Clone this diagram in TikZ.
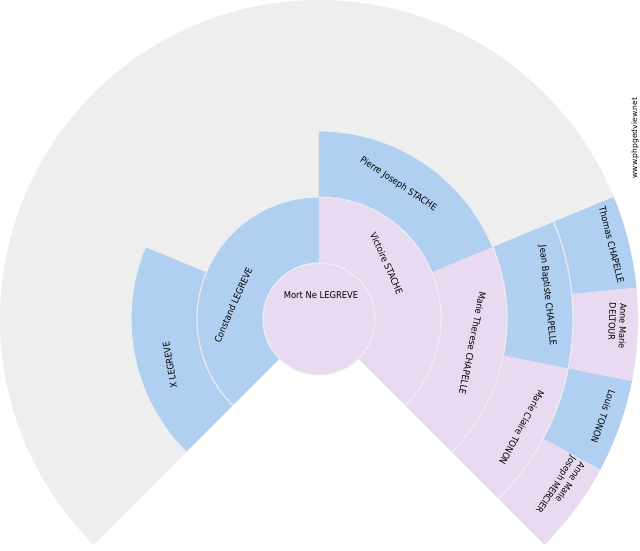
\documentclass[tikz,border=0pt]{standalone}
\usepackage{fontspec}
\setmainfont{DejaVu Sans Condensed}
\newfontfamily\wmfont{DejaVu Sans}
\definecolor{maleblue}{RGB}{177,208,241}
\definecolor{femlav}{RGB}{232,219,241}
\definecolor{fangrey}{RGB}{238,238,238}
\newcommand\fanseg[5]{% color, a1, a2, r1, r2
  \fill[#1] (#2:#4) arc[start angle=#2, end angle=#3, radius=#4] -- (#3:#5) arc[start angle=#3, end angle=#2, radius=#5] -- cycle;}
\tikzset{
  pname/.style={font=\fontsize{9.3}{10}\selectfont, inner sep=0pt, text=black},
  ptwoline/.style={pname, align=left, font=\fontsize{9}{10.6}\selectfont},
  ringsep/.style={draw=fangrey, line width=1.1pt},
}
\begin{document}
\begin{tikzpicture}[x=1pt,y=1pt]
\useasboundingbox (-319,-231) rectangle (321,319);
% grey background fan
\fill[fangrey] (0,0) -- (225:319) arc[start angle=225, end angle=-45, radius=319] -- cycle;
% generation 1
\fanseg{maleblue}{225}{90}{56}{122}
\fanseg{femlav}{90}{-45}{56}{122}
% generation 2
\fanseg{maleblue}{225}{157.5}{122}{188}
\fanseg{maleblue}{90}{22.5}{122}{188}
\fanseg{femlav}{22.5}{-45}{122}{188}
% generation 3
\fanseg{maleblue}{22.5}{-11.25}{188}{254}
\fanseg{femlav}{-11.25}{-45}{188}{254}
% generation 4
\fanseg{maleblue}{22.5}{5.625}{254}{319}
\fanseg{femlav}{5.625}{-11.25}{254}{319}
\fanseg{maleblue}{-11.25}{-28.125}{254}{319}
\fanseg{femlav}{-28.125}{-45}{254}{319}
% ring separators
\draw[ringsep] (225:122) arc[start angle=225, end angle=-45, radius=122];
\draw[ringsep] (225:188) arc[start angle=225, end angle=-45, radius=188];
\draw[ringsep] (225:254) arc[start angle=225, end angle=-45, radius=254];
% centre
\fill[femlav] (0,0) circle[radius=56];
\draw[ringsep] (0,0) circle[radius=56];
% names
\node[pname] (p0) at (2,24) {Mort Ne LEGREVE};
\node[pname, rotate=66] (p1) at (-85.7,14) {Constand LEGREVE};
\node[pname, rotate=-66] (p2) at (67.7,55.7) {Victoire STACHE};
\node[pname, rotate=100] (p3) at (-149,-46) {X LEGREVE};
\node[pname, rotate=-33.6] (p5) at (79.3,134.8) {Pierre Joseph STACHE};
\node[pname, rotate=-101.3] (p6) at (153.5,-24.3) {Marie Therese CHAPELLE};
\node[pname, rotate=-84] (p7) at (228.5,23.2) {Jean Baptiste CHAPELLE};
\node[pname, rotate=-118.5] (p8) at (202.7,-108.5) {Marie Claire TONON};
\node[pname, rotate=-76] (p9) at (292.7,74) {Thomas CHAPELLE};
\node[ptwoline, rotate=-92] (p10) at (298.5,-7) {Anne Marie\\DELTOUR};
\node[pname, rotate=-109.5] (p11) at (284.3,-97.7) {Louis TONON};
\node[ptwoline, rotate=-123] (p12) at (241,-168.5) {Anne Marie\\Joseph MERCIER};
% watermark
\node[font=\wmfont\fontsize{7.6}{8}\selectfont, rotate=90, inner sep=0pt] (wm) at (316,181) {www.phpgedview.net};
\end{tikzpicture}
\end{document}
